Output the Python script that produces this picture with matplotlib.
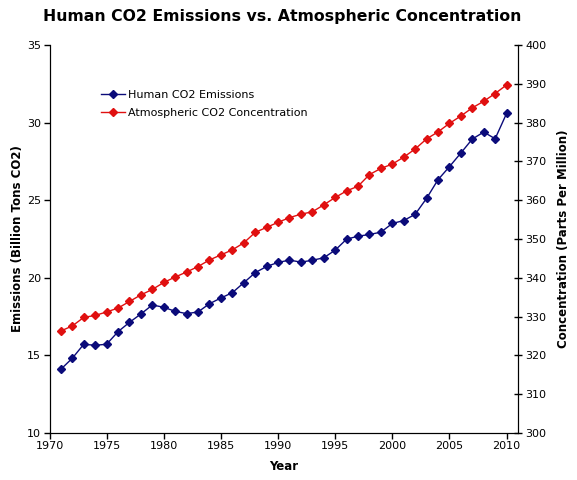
import matplotlib
matplotlib.use("Agg")
import matplotlib.pyplot as plt

years = list(range(1971, 2011))
emissions = [14.11, 14.82, 15.72, 15.65, 15.72, 16.53, 17.13, 17.67, 18.25, 18.10,
             17.84, 17.69, 17.80, 18.33, 18.70, 19.04, 19.68, 20.33, 20.73, 20.99,
             21.14, 21.01, 21.13, 21.29, 21.78, 22.49, 22.68, 22.79, 22.94, 23.50,
             23.69, 24.09, 25.12, 26.32, 27.16, 28.04, 28.94, 29.39, 28.96, 30.59]
concentration = [326.3, 327.6, 329.8, 330.3, 331.2, 332.2, 333.9, 335.6, 337.0, 338.8,
                 340.2, 341.5, 342.9, 344.6, 345.9, 347.2, 349.0, 351.7, 353.0, 354.3,
                 355.5, 356.4, 357.0, 358.8, 360.7, 362.4, 363.6, 366.6, 368.2, 369.3,
                 371.1, 373.2, 375.8, 377.6, 379.8, 381.7, 383.8, 385.5, 387.5, 389.7]
x_ticks = list(range(1970, 2011, 5))
left_ticks = list(range(10, 36, 5))
right_ticks = list(range(300, 401, 10))

title = "Human CO2 Emissions vs. Atmospheric Concentration"
blue = "#0b0b7a"
red = "#e01010"

fig = plt.figure(figsize=(5.77, 4.8), dpi=100)
ax = fig.add_axes([49.5/577, 1-433/480, (518-49.5)/577, (433-45)/480])
ax2 = ax.twinx()

l1, = ax.plot(years, emissions, color=blue, marker='D', markersize=4.3, linewidth=1,
              label="Human CO2 Emissions")
l2, = ax2.plot(years, concentration, color=red, marker='D', markersize=4.3, linewidth=1,
               label="Atmospheric CO2 Concentration")

ax.set_xlim(1970, 2011)
ax.set_ylim(10, 35)
ax2.set_ylim(300, 400)
ax.set_xticks(x_ticks)
ax.set_yticks(left_ticks)
ax2.set_yticks(right_ticks)

for a in (ax, ax2):
    a.spines['top'].set_visible(False)
    a.tick_params(labelsize=8, length=4, width=1, pad=2)
ax.tick_params(axis='x', direction='out')
ax.tick_params(axis='y', direction='out')
ax2.tick_params(axis='y', direction='inout', length=6)

ax.set_xlabel("Year", fontsize=8.5, fontweight='bold', labelpad=6)
ax.set_ylabel("Emissions (Billion Tons CO2)", fontsize=8.5, fontweight='bold', labelpad=2)
ax2.set_ylabel("Concentration (Parts Per Million)", fontsize=8.5, fontweight='bold', labelpad=8)

fig.text(282/577, 1-17/480, title, ha='center', va='center', fontsize=11.3, fontweight='bold')

ax.legend(handles=[l1, l2], loc='center left', bbox_to_anchor=(0.11, 0.848),
          frameon=False, fontsize=8, borderpad=0, handlelength=2.2,
          handletextpad=0.25, labelspacing=0.7, borderaxespad=0)

fig.savefig("out.png", dpi=100)
